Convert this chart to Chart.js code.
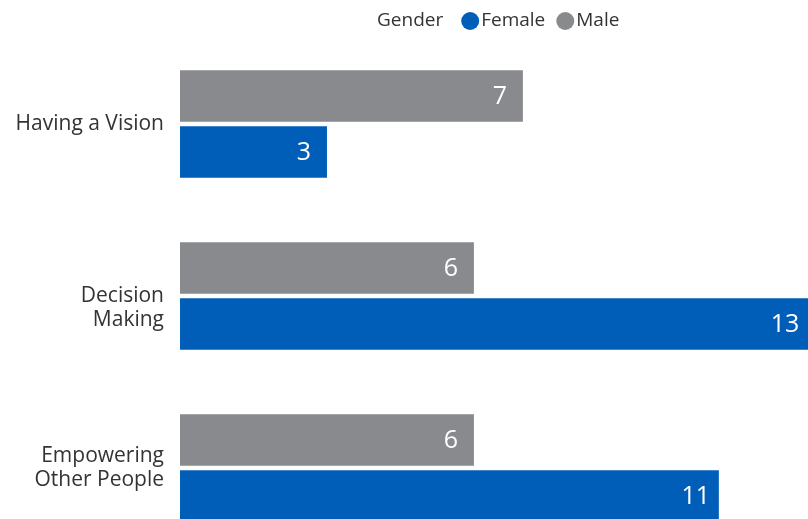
<!DOCTYPE html>
<html>
<head>
<meta charset="utf-8">
<script src="https://cdn.jsdelivr.net/npm/chart.js@4/dist/chart.umd.min.js"></script>
<style>
  html, body { margin: 0; padding: 0; background: #fff; overflow: hidden; }
  #wrap { position: relative; width: 808px; height: 554px; }
</style>
</head>
<body>
<div id="wrap"><canvas id="chart" width="808" height="554"></canvas></div>
<script>
// data
const categories = ['Having a Vision', ['', 'Decision', 'Making'], ['Empowering', 'Other People']];
const female_values = [3, 13, 11];
const male_values = [7, 6, 6];
const legend_title = 'Gender';

const colors = {
    female: '#005EB8',
    male: '#898A8D',
    text: '#333333',
    white: '#ffffff'
};

Chart.defaults.font.family = "'Open Sans', sans-serif";
Chart.defaults.color = colors.text;

// legend drawn inline: "Gender ● Female ● Male"
const inlineLegend = {
    id: 'inlineLegend',
    afterDraw(chart) {
        const ctx = chart.ctx;
        const items = [chart.data.datasets[1], chart.data.datasets[0]];
        ctx.save();
        ctx.font = "19px 'Open Sans', sans-serif";
        ctx.textBaseline = 'middle';
        ctx.textAlign = 'left';
        ctx.fillStyle = colors.text;
        let x = 377;
        const y = 21;
        ctx.fillText(legend_title, x, y);
        x += ctx.measureText(legend_title).width + 18;
        items.forEach((ds) => {
            ctx.fillStyle = ds.backgroundColor;
            ctx.beginPath();
            ctx.arc(x + 9, y, 9, 0, Math.PI * 2);
            ctx.fill();
            x += 20;
            ctx.fillStyle = colors.text;
            ctx.fillText(ds.label, x, y);
            x += ctx.measureText(ds.label).width + 11;
        });
        ctx.restore();
    }
};

// value labels inside the bar ends
const barValues = {
    id: 'barValues',
    afterDatasetsDraw(chart) {
        const ctx = chart.ctx;
        const right = chart.chartArea.right;
        ctx.save();
        ctx.font = "25px 'Open Sans', sans-serif";
        ctx.fillStyle = colors.white;
        ctx.textAlign = 'center';
        ctx.textBaseline = 'middle';
        chart.data.datasets.forEach((ds, i) => {
            chart.getDatasetMeta(i).data.forEach((bar, j) => {
                const x = Math.min(bar.x, right) - 23;
                ctx.fillText(String(ds.data[j]), x, bar.y + 1);
            });
        });
        ctx.restore();
    }
};

const chartobj = new Chart(document.querySelector('#chart').getContext('2d'), {
    type: 'bar',
    data: {
        labels: categories,
        datasets: [
            { label: 'Male', data: male_values, backgroundColor: colors.male },
            { label: 'Female', data: female_values, backgroundColor: colors.female }
        ]
    },
    options: {
        indexAxis: 'y',
        responsive: false,
        animation: false,
        layout: { padding: { top: 38, left: 0, right: 0, bottom: 0 } },
        datasets: {
            bar: { categoryPercentage: 0.652, barPercentage: 0.916 }
        },
        plugins: {
            legend: { display: false },
            tooltip: { enabled: false }
        },
        scales: {
            x: {
                display: false,
                min: 0,
                max: 12.82
            },
            y: {
                grid: { display: false, drawTicks: false },
                border: { display: false },
                ticks: {
                    padding: 16,
                    color: colors.text,
                    font: { size: 21, lineHeight: 1.12 }
                },
                afterFit(scale) {
                    scale.width = 180;
                    // labels sit inside their category band, no extra room needed
                    scale.paddingTop = 0;
                    scale.paddingBottom = 0;
                }
            }
        }
    },
    plugins: [inlineLegend, barValues]
});
</script>
</body>
</html>
